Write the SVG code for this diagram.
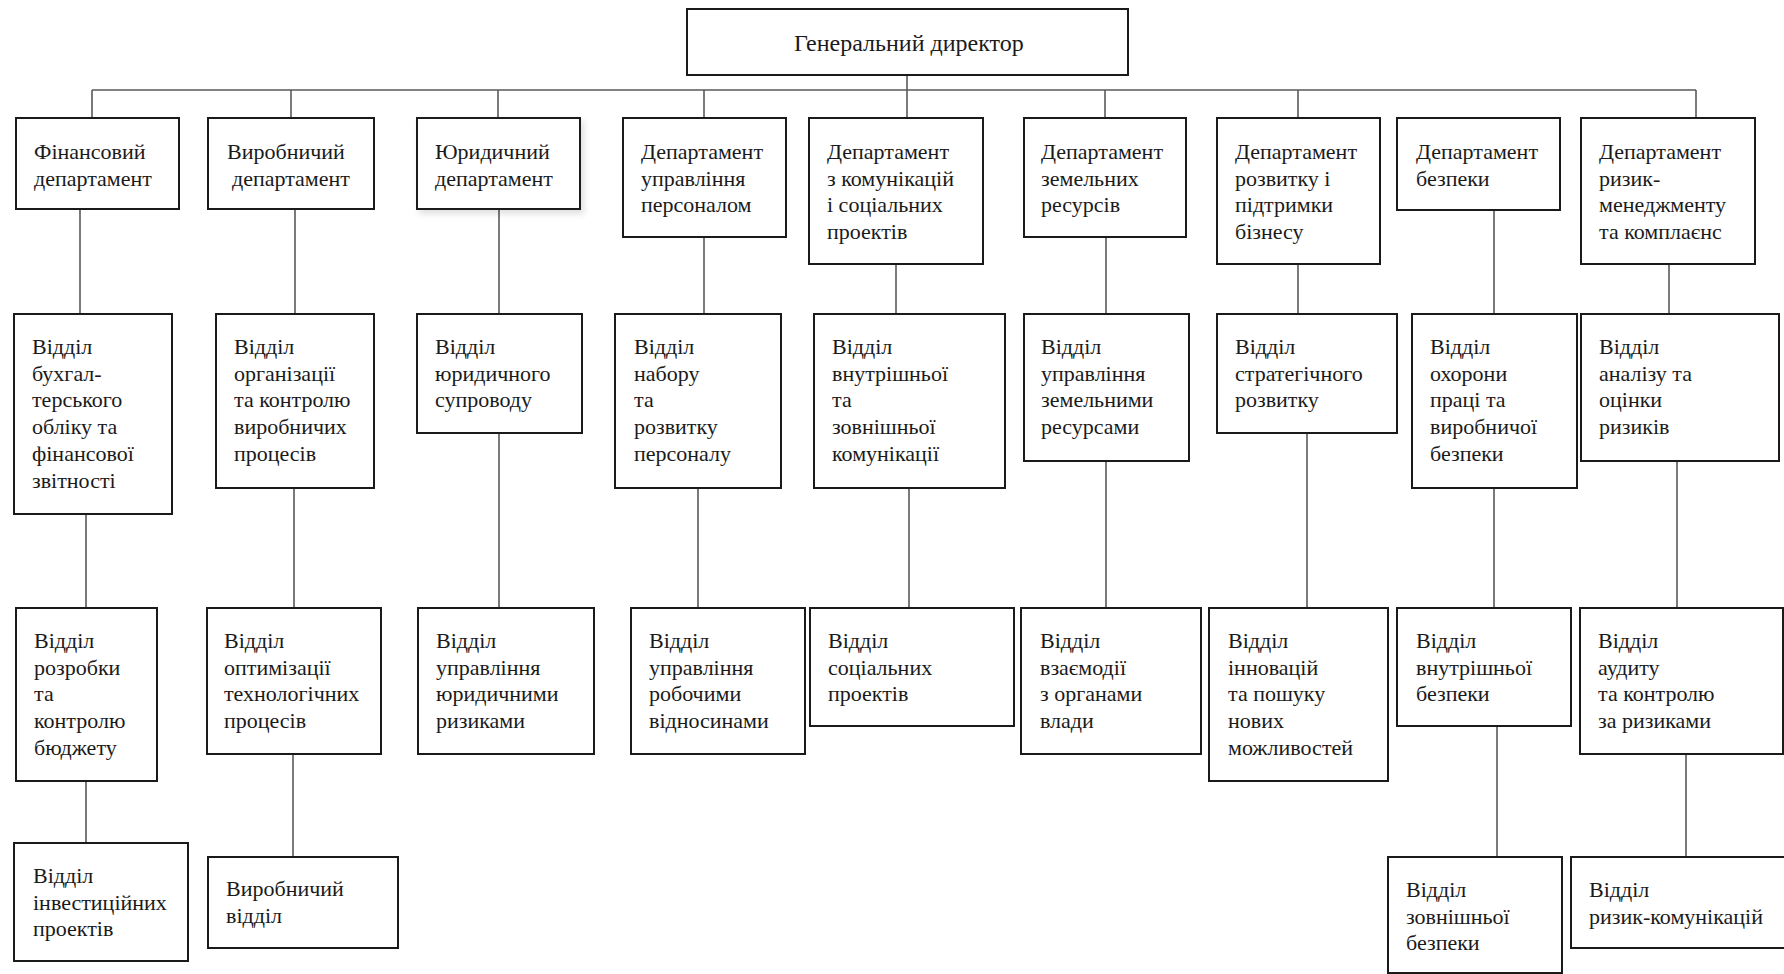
<svg xmlns="http://www.w3.org/2000/svg" width="1784" height="974" viewBox="0 0 1784 974">
<style>
.box{fill:#fff;stroke:#1a1a1a;stroke-width:2}
.t{font-family:"Liberation Serif","Times New Roman",serif;font-size:22px;fill:#1a1a1a}
.tt{font-family:"Liberation Serif","Times New Roman",serif;font-size:24px;fill:#1a1a1a}
.c{stroke:#5a5a5a;stroke-width:1.6;fill:none}
</style>
<defs>
<filter id="sh" x="-10%" y="-10%" width="125%" height="130%">
<feDropShadow dx="3" dy="4" stdDeviation="3" flood-color="#000" flood-opacity="0.12"/>
</filter>
</defs>
<rect width="1784" height="974" fill="#fff"/>
<g id="connectors" class="c">
<path d="M907 75V118M92 90H1696M92 90V118M291 90V118M498 90V118M704 90V118M1105 90V118M1298 90V118M1696 90V118"/>
<path d="M80 209V314M295 209V314M499 209V314M704 237V314M896 264V314M1106 237V314M1298 264V314M1494 210V314M1669 264V314"/>
<path d="M86 514V608M294 488V608M499 433V608M698 488V608M909 488V608M1106 461V608M1307 433V608M1494 488V608M1677 461V608"/>
<path d="M86 781V843M293 754V857M1497 726V857M1686 754V857"/>
</g>
<g id="gd"><rect class="box" x="687" y="9" width="441" height="66"/><text class="tt" x="794" y="51">Генеральний директор</text></g>

<g id="d1"><rect class="box" x="16" y="118" width="163" height="91"/><text class="t" x="34" y="159">Фінансовий<tspan x="34" dy="26.7">департамент</tspan></text></g>
<g id="d2"><rect class="box" x="208" y="118" width="166" height="91"/><text class="t" x="227" y="159">Виробничий<tspan x="232" dy="26.7">департамент</tspan></text></g>
<g id="d3"><rect class="box" x="417" y="118" width="163" height="91" filter="url(#sh)"/><text class="t" x="435" y="159">Юридичний<tspan x="435" dy="26.7">департамент</tspan></text></g>
<g id="d4"><rect class="box" x="623" y="118" width="163" height="119"/><text class="t" x="641" y="159">Департамент<tspan x="641" dy="26.7">управління</tspan><tspan x="641" dy="26.7">персоналом</tspan></text></g>
<g id="d5"><rect class="box" x="809" y="118" width="174" height="146"/><text class="t" x="827" y="159">Департамент<tspan x="827" dy="26.7">з комунікацій</tspan><tspan x="827" dy="26.7">і соціальних</tspan><tspan x="827" dy="26.7">проектів</tspan></text></g>
<g id="d6"><rect class="box" x="1024" y="118" width="162" height="119"/><text class="t" x="1041" y="159">Департамент<tspan x="1041" dy="26.7">земельних</tspan><tspan x="1041" dy="26.7">ресурсів</tspan></text></g>
<g id="d7"><rect class="box" x="1217" y="118" width="163" height="146"/><text class="t" x="1235" y="159">Департамент<tspan x="1235" dy="26.7">розвитку і</tspan><tspan x="1235" dy="26.7">підтримки</tspan><tspan x="1235" dy="26.7">бізнесу</tspan></text></g>
<g id="d8"><rect class="box" x="1397" y="118" width="163" height="92"/><text class="t" x="1416" y="159">Департамент<tspan x="1416" dy="26.7">безпеки</tspan></text></g>
<g id="d9"><rect class="box" x="1581" y="118" width="174" height="146"/><text class="t" x="1599" y="159">Департамент<tspan x="1599" dy="26.7">ризик-</tspan><tspan x="1599" dy="26.7">менеджменту</tspan><tspan x="1599" dy="26.7">та комплаєнс</tspan></text></g>

<g id="o21"><rect class="box" x="14" y="314" width="158" height="200"/><text class="t" x="32" y="354">Відділ<tspan x="32" dy="26.7">бухгал-</tspan><tspan x="32" dy="26.7">терського</tspan><tspan x="32" dy="26.7">обліку та</tspan><tspan x="32" dy="26.7">фінансової</tspan><tspan x="32" dy="26.7">звітності</tspan></text></g>
<g id="o22"><rect class="box" x="216" y="314" width="158" height="174"/><text class="t" x="234" y="354">Відділ<tspan x="234" dy="26.7">організації</tspan><tspan x="234" dy="26.7">та контролю</tspan><tspan x="234" dy="26.7">виробничих</tspan><tspan x="234" dy="26.7">процесів</tspan></text></g>
<g id="o23"><rect class="box" x="417" y="314" width="165" height="119"/><text class="t" x="435" y="354">Відділ<tspan x="435" dy="26.7">юридичного</tspan><tspan x="435" dy="26.7">супроводу</tspan></text></g>
<g id="o24"><rect class="box" x="615" y="314" width="166" height="174"/><text class="t" x="634" y="354">Відділ<tspan x="634" dy="26.7">набору</tspan><tspan x="634" dy="26.7">та</tspan><tspan x="634" dy="26.7">розвитку</tspan><tspan x="634" dy="26.7">персоналу</tspan></text></g>
<g id="o25"><rect class="box" x="814" y="314" width="191" height="174"/><text class="t" x="832" y="354">Відділ<tspan x="832" dy="26.7">внутрішньої</tspan><tspan x="832" dy="26.7">та</tspan><tspan x="832" dy="26.7">зовнішньої</tspan><tspan x="832" dy="26.7">комунікації</tspan></text></g>
<g id="o26"><rect class="box" x="1024" y="314" width="165" height="147"/><text class="t" x="1041" y="354">Відділ<tspan x="1041" dy="26.7">управління</tspan><tspan x="1041" dy="26.7">земельними</tspan><tspan x="1041" dy="26.7">ресурсами</tspan></text></g>
<g id="o27"><rect class="box" x="1217" y="314" width="180" height="119"/><text class="t" x="1235" y="354">Відділ<tspan x="1235" dy="26.7">стратегічного</tspan><tspan x="1235" dy="26.7">розвитку</tspan></text></g>
<g id="o28"><rect class="box" x="1412" y="314" width="165" height="174"/><text class="t" x="1430" y="354">Відділ<tspan x="1430" dy="26.7">охорони</tspan><tspan x="1430" dy="26.7">праці та</tspan><tspan x="1430" dy="26.7">виробничої</tspan><tspan x="1430" dy="26.7">безпеки</tspan></text></g>
<g id="o29"><rect class="box" x="1581" y="314" width="198" height="147"/><text class="t" x="1599" y="354">Відділ<tspan x="1599" dy="26.7">аналізу та</tspan><tspan x="1599" dy="26.7">оцінки</tspan><tspan x="1599" dy="26.7">ризиків</tspan></text></g>

<g id="o31"><rect class="box" x="16" y="608" width="141" height="173"/><text class="t" x="34" y="648">Відділ<tspan x="34" dy="26.7">розробки</tspan><tspan x="34" dy="26.7">та</tspan><tspan x="34" dy="26.7">контролю</tspan><tspan x="34" dy="26.7">бюджету</tspan></text></g>
<g id="o32"><rect class="box" x="207" y="608" width="174" height="146"/><text class="t" x="224" y="648">Відділ<tspan x="224" dy="26.7">оптимізації</tspan><tspan x="224" dy="26.7">технологічних</tspan><tspan x="224" dy="26.7">процесів</tspan></text></g>
<g id="o33"><rect class="box" x="418" y="608" width="176" height="146"/><text class="t" x="436" y="648">Відділ<tspan x="436" dy="26.7">управління</tspan><tspan x="436" dy="26.7">юридичними</tspan><tspan x="436" dy="26.7">ризиками</tspan></text></g>
<g id="o34"><rect class="box" x="631" y="608" width="174" height="146"/><text class="t" x="649" y="648">Відділ<tspan x="649" dy="26.7">управління</tspan><tspan x="649" dy="26.7">робочими</tspan><tspan x="649" dy="26.7">відносинами</tspan></text></g>
<g id="o35"><rect class="box" x="810" y="608" width="204" height="118"/><text class="t" x="828" y="648">Відділ<tspan x="828" dy="26.7">соціальних</tspan><tspan x="828" dy="26.7">проектів</tspan></text></g>
<g id="o36"><rect class="box" x="1021" y="608" width="180" height="146"/><text class="t" x="1040" y="648">Відділ<tspan x="1040" dy="26.7">взаємодії</tspan><tspan x="1040" dy="26.7">з органами</tspan><tspan x="1040" dy="26.7">влади</tspan></text></g>
<g id="o37"><rect class="box" x="1209" y="608" width="179" height="173"/><text class="t" x="1228" y="648">Відділ<tspan x="1228" dy="26.7">інновацій</tspan><tspan x="1228" dy="26.7">та пошуку</tspan><tspan x="1228" dy="26.7">нових</tspan><tspan x="1228" dy="26.7">можливостей</tspan></text></g>
<g id="o38"><rect class="box" x="1397" y="608" width="174" height="118"/><text class="t" x="1416" y="648">Відділ<tspan x="1416" dy="26.7">внутрішньої</tspan><tspan x="1416" dy="26.7">безпеки</tspan></text></g>
<g id="o39"><rect class="box" x="1580" y="608" width="203" height="146"/><text class="t" x="1598" y="648">Відділ<tspan x="1598" dy="26.7">аудиту</tspan><tspan x="1598" dy="26.7">та контролю</tspan><tspan x="1598" dy="26.7">за ризиками</tspan></text></g>

<g id="o41"><rect class="box" x="14" y="843" width="174" height="118"/><text class="t" x="33" y="883">Відділ<tspan x="33" dy="26.7">інвестиційних</tspan><tspan x="33" dy="26.7">проектів</tspan></text></g>
<g id="o42"><rect class="box" x="208" y="857" width="190" height="91"/><text class="t" x="226" y="896">Виробничий<tspan x="226" dy="26.7">відділ</tspan></text></g>
<g id="o48"><rect class="box" x="1388" y="857" width="174" height="116"/><text class="t" x="1406" y="897">Відділ<tspan x="1406" dy="26.7">зовнішньої</tspan><tspan x="1406" dy="26.7">безпеки</tspan></text></g>
<g id="o49"><rect class="box" x="1571" y="857" width="214" height="91"/><text class="t" x="1589" y="897">Відділ<tspan x="1589" dy="26.7">ризик-комунікацій</tspan></text></g>
</svg>
